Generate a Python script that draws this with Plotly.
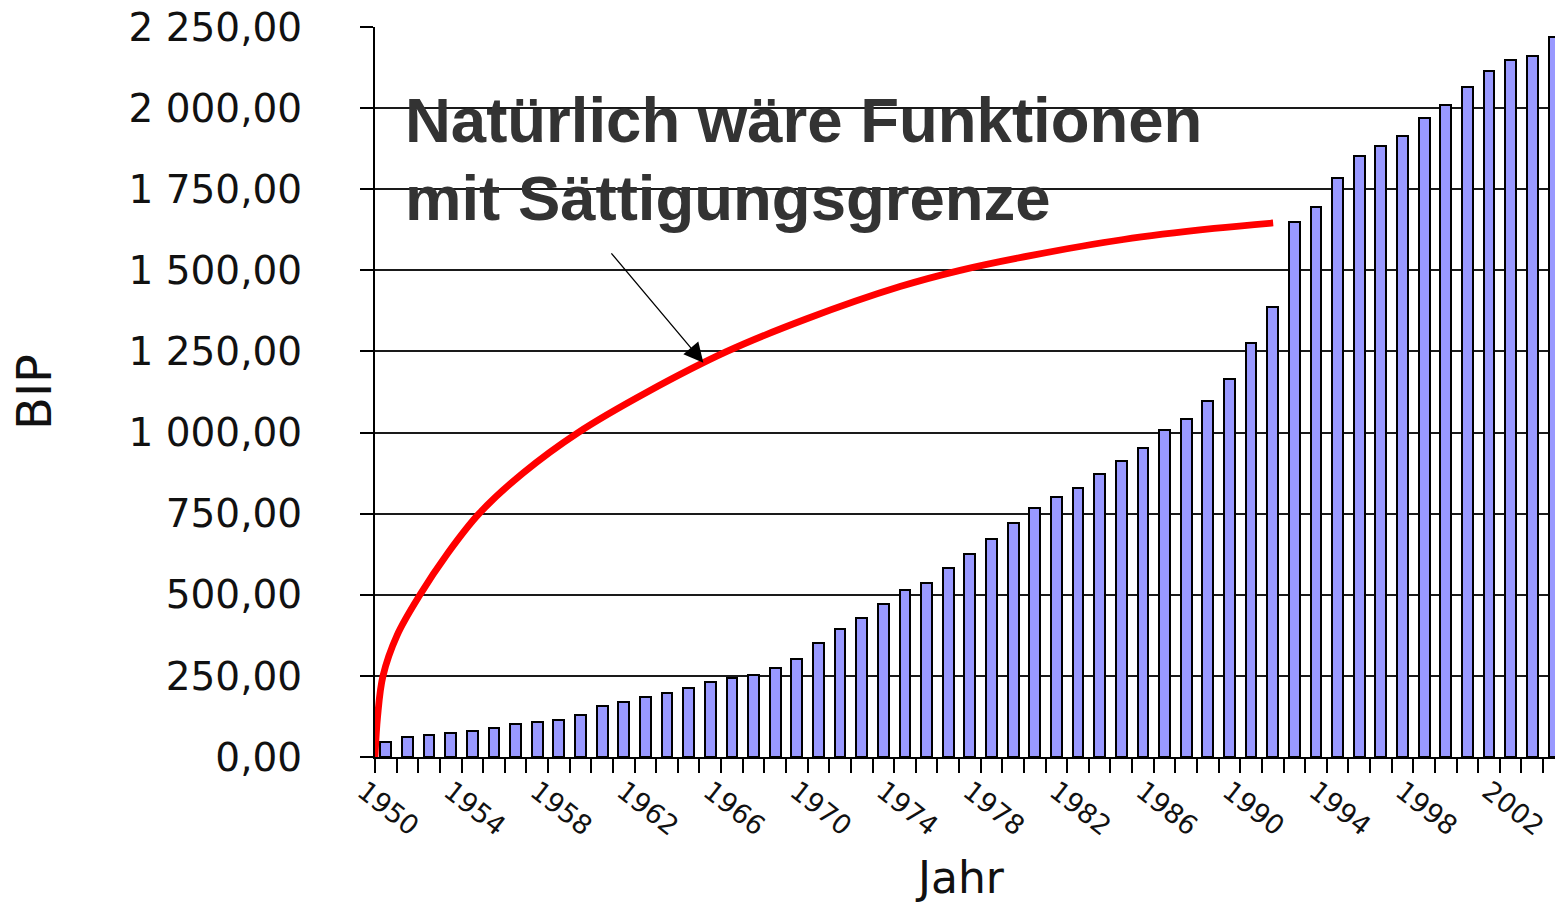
import plotly.graph_objects as go

# ---- data ----
years = list(range(1950, 2005))
bip = [46, 62, 68, 75, 80, 89, 102, 108, 115, 130,
       157, 170, 184, 198, 212, 231, 245, 254, 275, 303,
       350, 393, 427, 473, 514, 535, 583, 625, 671, 720,
       769, 802, 830, 871, 913, 953, 1007, 1043, 1098, 1166,
       1276, 1386, 1648, 1696, 1785, 1851, 1882, 1914, 1971, 2011,
       2064, 2113, 2148, 2161, 2218]

# red hand-drawn "saturation" curve
curve_x = [1949.50, 1949.62, 1949.87, 1950.52, 1951.58, 1952.83, 1954.31, 1956.34,
           1958.89, 1962.09, 1965.77, 1969.43, 1973.77, 1976.55, 1979.92, 1984.10,
           1988.29, 1991.02]
curve_y = [0, 125, 250, 375, 500, 625, 750, 875,
           1000, 1125, 1250, 1350, 1450, 1500, 1547, 1595,
           1629, 1646]

x_tick_years = list(range(1950, 2003, 4))
x_tick_labels = [str(y) for y in x_tick_years]
y_tick_vals = [0, 250, 500, 750, 1000, 1250, 1500, 1750, 2000, 2250]
y_tick_labels = ["0,00", "250,00", "500,00", "750,00", "1 000,00", "1 250,00",
                 "1 500,00", "1 750,00", "2 000,00", "2 250,00"]

x_title = "Jahr"
y_title = "BIP"
annot_line1 = "Natürlich wäre Funktionen"
annot_line2 = "mit Sättigungsgrenze"
arrow_head = (1964.68, 1215)
arrow_tail = (1960.37, 1557)

fig = go.Figure()
fig.add_trace(go.Bar(
    x=years, y=bip, width=0.5,
    marker=dict(color="#9999FF", line=dict(color="#000000", width=2)),
    showlegend=False,
))
fig.add_trace(go.Scatter(
    x=curve_x, y=curve_y, mode="lines",
    line=dict(color="#FF0000", width=6.8, shape="spline", smoothing=1.0),
    showlegend=False, cliponaxis=False,
))

fig.add_annotation(x=(403 - 375) / 1180, y=1 - (120 - 27) / 730, xref="paper", yref="paper",
                   xanchor="left", yanchor="middle", showarrow=False,
                   text="<b>" + annot_line1 + "</b>",
                   font=dict(family="Liberation Sans, Arial", size=63.5, color="#333333"))
fig.add_annotation(x=(403 - 375) / 1180, y=1 - (198 - 27) / 730, xref="paper", yref="paper",
                   xanchor="left", yanchor="middle", showarrow=False,
                   text="<b>" + annot_line2 + "</b>",
                   font=dict(family="Liberation Sans, Arial", size=63.5, color="#333333"))
fig.add_annotation(x=arrow_head[0], y=arrow_head[1], ax=arrow_tail[0], ay=arrow_tail[1],
                   xref="x", yref="y", axref="x", ayref="y", text="",
                   showarrow=True, arrowhead=2, arrowsize=3, arrowwidth=1.3,
                   arrowcolor="#000000")
# x axis title (placed as annotation for exact vertical position)
fig.add_annotation(x=(960 - 375) / 1180, y=1 - (877 - 27) / 730, xref="paper", yref="paper",
                   xanchor="center", yanchor="middle", showarrow=False,
                   text=x_title,
                   font=dict(family="DejaVu Sans", size=44, color="#111111"))

fig.update_layout(
    width=1555, height=904,
    margin=dict(l=375, r=0, t=27, b=147),
    paper_bgcolor="white", plot_bgcolor="white",
    bargap=0,
    font=dict(family="DejaVu Sans", color="#111111"),
)
fig.update_xaxes(
    range=[1949.5, 2004.05], automargin=False,
    tickmode="array", tickvals=x_tick_years, ticktext=x_tick_labels,
    tickangle=38, ticks="", ticklabelshift=-22, ticklabelstandoff=6,
    tickfont=dict(family="DejaVu Sans", size=27, color="#111111"),
    showgrid=False, showline=True, linecolor="#000000", linewidth=2,
    minor=dict(tick0=1949.5, dtick=1, ticks="outside", ticklen=14,
               tickcolor="#000000", tickwidth=2, showgrid=False),
    zeroline=False,
)
fig.update_yaxes(
    range=[0, 2250], automargin=False,
    tickmode="array", tickvals=y_tick_vals, ticktext=y_tick_labels,
    ticks="outside", ticklen=13, tickcolor="#000000", tickwidth=2,
    ticklabelstandoff=50,
    tickfont=dict(family="DejaVu Sans", size=39, color="#111111"),
    showgrid=True, gridcolor="#1a1a1a", gridwidth=1.6,
    showline=True, linecolor="#000000", linewidth=2,
    title=dict(text=y_title, font=dict(family="DejaVu Sans", size=48, color="#111111"),
               standoff=62),
    zeroline=False,
)

fig.write_html("out.html", config={"displayModeBar": False},
               post_script="document.body.style.margin='0px';")
